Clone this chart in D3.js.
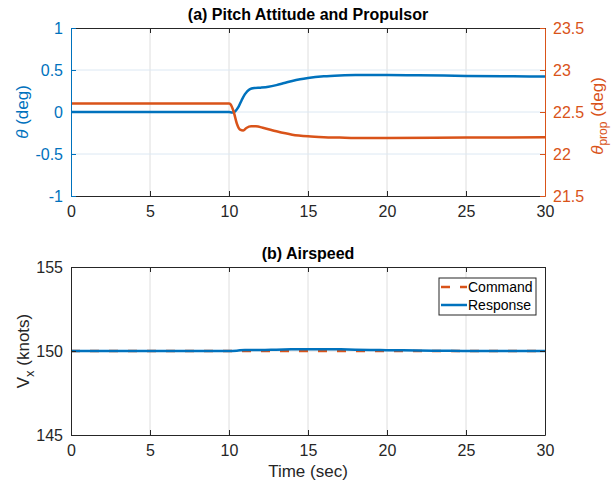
<!DOCTYPE html>
<html>
<head>
<meta charset="utf-8">
<script src="https://cdn.jsdelivr.net/npm/d3@7"></script>
<style>
  body { margin: 0; background: #fff; }
  svg { font-family: "Liberation Sans", Arial, sans-serif; }
  .tick text { font-size: 16px; }
</style>
</head>
<body>
<div id="chart"></div>
<script>
// data
var thetaTime = [0, 10, 10.2, 10.4, 10.6, 10.8, 11.0, 11.3, 11.6, 12, 12.5, 13, 13.5, 14, 14.5, 15, 16, 17, 18, 20, 22, 25, 28, 30];
var thetaDeg  = [0, 0, -0.005, 0.01, 0.06, 0.14, 0.21, 0.27, 0.285, 0.29, 0.30, 0.32, 0.345, 0.37, 0.39, 0.405, 0.425, 0.435, 0.44, 0.44, 0.437, 0.43, 0.425, 0.422];

var propTime = [0, 10, 10.1, 10.3, 10.5, 10.7, 10.9, 11.1, 11.4, 11.7, 12.2, 13, 14, 15, 16, 17, 18, 20, 25, 30];
var propDeg  = [22.6, 22.6, 22.59, 22.5, 22.36, 22.29, 22.28, 22.31, 22.33, 22.33, 22.31, 22.27, 22.23, 22.21, 22.2, 22.195, 22.19, 22.19, 22.195, 22.2];

var cmdTime = [0, 30];
var cmdSpeed = [150, 150];

var respTime  = [0, 10, 10.5, 11, 12, 13, 14, 15, 16, 17, 18, 19, 20, 22, 24, 26, 30];
var respSpeed = [150, 150, 150.02, 150.06, 150.06, 150.08, 150.1, 150.11, 150.11, 150.1, 150.08, 150.06, 150.05, 150.03, 150.01, 150, 150];

var xTicks = [0, 5, 10, 15, 20, 25, 30];
var thetaTicks = [-1, -0.5, 0, 0.5, 1];
var propTicks = [21.5, 22, 22.5, 23, 23.5];
var speedTicks = [145, 150, 155];

var blue = '#0072BD';
var orange = '#D95319';
var dark = '#262626';

var svgWidth = 611;
var svgHeight = 487;

var left = 71, right = 545;
var topA = { y0: 28, y1: 196 };
var topB = { y0: 267, y1: 435 };

// plain number labels, hyphen minus like the reference
var plain = function(d) { return String(d); };

var svg = d3.select('#chart').append('svg')
  .attr('width', svgWidth)
  .attr('height', svgHeight);

var x = d3.scaleLinear().domain([0, 30]).range([left, right]);
var yTheta = d3.scaleLinear().domain([-1, 1]).range([topA.y1, topA.y0]);
var yProp = d3.scaleLinear().domain([21.5, 23.5]).range([topA.y1, topA.y0]);
var ySpeed = d3.scaleLinear().domain([145, 155]).range([topB.y1, topB.y0]);

function zip(t, v) {
  return t.map(function(d, i) { return [d, v[i]]; });
}

var clip = svg.append('defs');
clip.append('clipPath').attr('id', 'clipA').append('rect')
  .attr('x', left).attr('y', topA.y0).attr('width', right - left).attr('height', topA.y1 - topA.y0);
clip.append('clipPath').attr('id', 'clipB').append('rect')
  .attr('x', left).attr('y', topB.y0).attr('width', right - left).attr('height', topB.y1 - topB.y0);

// ---------- panel (a) ----------
var gA = svg.append('g');

// grid
gA.selectAll('.vgrid').data(xTicks.slice(1, -1)).enter().append('line')
  .attr('x1', d => x(d)).attr('x2', d => x(d))
  .attr('y1', topA.y0).attr('y2', topA.y1)
  .attr('stroke', '#dedede').attr('stroke-width', 1);
gA.selectAll('.hgrid').data(thetaTicks.slice(1, -1)).enter().append('line')
  .attr('x1', left).attr('x2', right)
  .attr('y1', d => yTheta(d)).attr('y2', d => yTheta(d))
  .attr('stroke', '#dce8f3').attr('stroke-width', 1);

var lineTheta = d3.line().x(d => x(d[0])).y(d => yTheta(d[1])).curve(d3.curveMonotoneX);
var lineProp = d3.line().x(d => x(d[0])).y(d => yProp(d[1])).curve(d3.curveMonotoneX);

gA.append('path')
  .datum(zip(thetaTime, thetaDeg))
  .attr('clip-path', 'url(#clipA)')
  .attr('d', lineTheta)
  .attr('fill', 'none').attr('stroke', blue).attr('stroke-width', 2.5)
  .attr('stroke-linejoin', 'round');

gA.append('path')
  .datum(zip(propTime, propDeg))
  .attr('clip-path', 'url(#clipA)')
  .attr('d', lineProp)
  .attr('fill', 'none').attr('stroke', orange).attr('stroke-width', 2.5)
  .attr('stroke-linejoin', 'round');

// axes
var axA_bottom = gA.append('g')
  .attr('transform', `translate(0, ${topA.y1})`)
  .call(d3.axisBottom(x).tickValues(xTicks).tickSizeInner(-5).tickSizeOuter(0).tickPadding(9).tickFormat(plain));
var axA_top = gA.append('g')
  .attr('transform', `translate(0, ${topA.y0})`)
  .call(d3.axisTop(x).tickValues(xTicks).tickSizeInner(-5).tickSizeOuter(0).tickFormat(''));
var axA_left = gA.append('g')
  .attr('transform', `translate(${left}, 0)`)
  .call(d3.axisLeft(yTheta).tickValues(thetaTicks).tickSizeInner(-5).tickSizeOuter(0).tickPadding(8).tickFormat(plain));
var axA_right = gA.append('g')
  .attr('transform', `translate(${right}, 0)`)
  .call(d3.axisRight(yProp).tickValues(propTicks).tickSizeInner(-5).tickSizeOuter(0).tickPadding(8).tickFormat(plain));

[axA_bottom, axA_top].forEach(function(a) {
  a.select('.domain').attr('stroke', dark);
  a.selectAll('.tick line').attr('stroke', dark);
  a.selectAll('.tick text').attr('fill', dark);
});
axA_bottom.selectAll('.tick text').attr('dy', '0.75em');
axA_left.select('.domain').attr('stroke', blue);
axA_left.selectAll('.tick line').attr('stroke', blue);
axA_left.selectAll('.tick text').attr('fill', blue);
axA_right.select('.domain').attr('stroke', orange);
axA_right.selectAll('.tick line').attr('stroke', orange);
axA_right.selectAll('.tick text').attr('fill', orange);
svg.selectAll('.domain').attr('stroke-width', 1);

gA.append('text')
  .attr('x', (left + right) / 2).attr('y', 20)
  .attr('text-anchor', 'middle')
  .attr('font-size', '16px').attr('font-weight', 'bold').attr('fill', '#000')
  .text('(a) Pitch Attitude and Propulsor');

var lblTheta = gA.append('text')
  .attr('transform', `translate(28, ${(topA.y0 + topA.y1) / 2}) rotate(-90)`)
  .attr('text-anchor', 'middle')
  .attr('font-size', '17px').attr('fill', blue);
lblTheta.append('tspan').attr('font-style', 'italic').text('θ');
lblTheta.append('tspan').text(' (deg)');

var lblProp = gA.append('text')
  .attr('transform', `translate(603, ${(topA.y0 + topA.y1) / 2 + 4}) rotate(-90)`)
  .attr('text-anchor', 'middle')
  .attr('font-size', '17px').attr('fill', orange);
lblProp.append('tspan').attr('font-style', 'italic').text('θ');
lblProp.append('tspan').attr('font-size', '12px').attr('dy', 4).text('prop');
lblProp.append('tspan').attr('dy', -4).text(' (deg)');

// ---------- panel (b) ----------
var gB = svg.append('g');

gB.selectAll('.vgrid').data(xTicks.slice(1, -1)).enter().append('line')
  .attr('x1', d => x(d)).attr('x2', d => x(d))
  .attr('y1', topB.y0).attr('y2', topB.y1)
  .attr('stroke', '#dedede').attr('stroke-width', 1);
gB.selectAll('.hgrid').data(speedTicks.slice(1, -1)).enter().append('line')
  .attr('x1', left).attr('x2', right)
  .attr('y1', d => ySpeed(d)).attr('y2', d => ySpeed(d))
  .attr('stroke', '#dedede').attr('stroke-width', 1);

var lineSpeed = d3.line().x(d => x(d[0])).y(d => ySpeed(d[1])).curve(d3.curveMonotoneX);

gB.append('path')
  .datum(zip(cmdTime, cmdSpeed))
  .attr('clip-path', 'url(#clipB)')
  .attr('d', lineSpeed)
  .attr('fill', 'none').attr('stroke', orange).attr('stroke-width', 2.5)
  .attr('stroke-dasharray', '9,10');

gB.append('path')
  .datum(zip(respTime, respSpeed))
  .attr('clip-path', 'url(#clipB)')
  .attr('d', lineSpeed)
  .attr('fill', 'none').attr('stroke', blue).attr('stroke-width', 2.5)
  .attr('stroke-linejoin', 'round');

var axB_bottom = gB.append('g')
  .attr('transform', `translate(0, ${topB.y1})`)
  .call(d3.axisBottom(x).tickValues(xTicks).tickSizeInner(-5).tickSizeOuter(0).tickPadding(9).tickFormat(plain));
var axB_top = gB.append('g')
  .attr('transform', `translate(0, ${topB.y0})`)
  .call(d3.axisTop(x).tickValues(xTicks).tickSizeInner(-5).tickSizeOuter(0).tickFormat(''));
var axB_left = gB.append('g')
  .attr('transform', `translate(${left}, 0)`)
  .call(d3.axisLeft(ySpeed).tickValues(speedTicks).tickSizeInner(-5).tickSizeOuter(0).tickPadding(8).tickFormat(plain));
var axB_right = gB.append('g')
  .attr('transform', `translate(${right}, 0)`)
  .call(d3.axisRight(ySpeed).tickValues(speedTicks).tickSizeInner(-5).tickSizeOuter(0).tickFormat(''));

[axB_bottom, axB_top, axB_left, axB_right].forEach(function(a) {
  a.select('.domain').attr('stroke', dark).attr('stroke-width', 1);
  a.selectAll('.tick line').attr('stroke', dark);
  a.selectAll('.tick text').attr('fill', dark);
});
axB_bottom.selectAll('.tick text').attr('dy', '0.75em');

gB.append('text')
  .attr('x', (left + right) / 2).attr('y', 259)
  .attr('text-anchor', 'middle')
  .attr('font-size', '16px').attr('font-weight', 'bold').attr('fill', '#000')
  .text('(b) Airspeed');

var lblV = gB.append('text')
  .attr('transform', `translate(29, ${(topB.y0 + topB.y1) / 2}) rotate(-90)`)
  .attr('text-anchor', 'middle')
  .attr('font-size', '17px').attr('fill', dark);
lblV.append('tspan').text('V');
lblV.append('tspan').attr('font-size', '13px').attr('dy', 5).text('x');
lblV.append('tspan').attr('dy', -5).text(' (knots)');

gB.append('text')
  .attr('x', (left + right) / 2).attr('y', 477)
  .attr('text-anchor', 'middle')
  .attr('font-size', '17px').attr('fill', dark)
  .text('Time (sec)');

// legend
var legend = gB.append('g');
legend.append('rect')
  .attr('x', 439).attr('y', 278).attr('width', 97).attr('height', 37)
  .attr('fill', '#fff').attr('stroke', dark).attr('stroke-width', 1);
var legendItems = [
  { label: 'Command', color: orange, dash: '9,10' },
  { label: 'Response', color: blue, dash: null }
];
legendItems.forEach(function(item, i) {
  var yy = 287 + i * 18;
  legend.append('line')
    .attr('x1', 441).attr('x2', 467).attr('y1', yy).attr('y2', yy)
    .attr('stroke', item.color).attr('stroke-width', 2.5)
    .attr('stroke-dasharray', item.dash);
  legend.append('text')
    .attr('x', 468).attr('y', yy).attr('dy', '0.35em')
    .attr('font-size', '14px').attr('fill', '#000')
    .text(item.label);
});
</script>
</body>
</html>
